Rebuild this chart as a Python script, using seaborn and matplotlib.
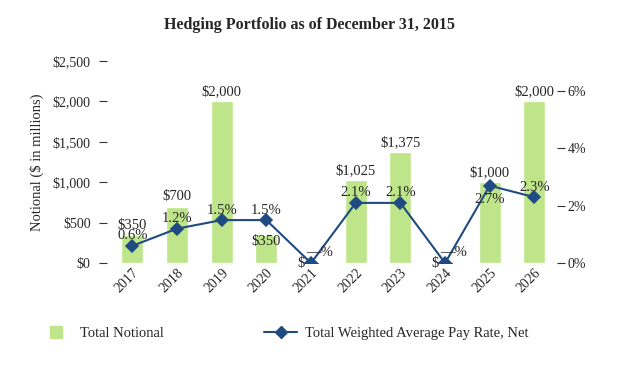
import numpy as np
import pandas as pd
import seaborn as sns
import matplotlib.pyplot as plt
from matplotlib.lines import Line2D

# Chart data
years = ['2017', '2018', '2019', '2020', '2021', '2022', '2023', '2024', '2025', '2026']
notional = [350, 700, 2000, 350, 0, 1025, 1375, 0, 1000, 2000]
pay_rate = [0.6, 1.2, 1.5, 1.5, 0.0, 2.1, 2.1, 0.0, 2.7, 2.3]
notional_labels = ['$350', '$700', '$2,000', '$350', '$—', '$1,025', '$1,375', '$—', '$1,000', '$2,000']
rate_labels = ['0.6%', '1.2%', '1.5%', '1.5%', '—%', '2.1%', '2.1%', '—%', '2.7%', '2.3%']

GREEN = '#BEE58A'
NAVY = '#1F4A82'

sns.set_style('white')
plt.rcParams['font.family'] = ['Liberation Serif', 'DejaVu Serif']
plt.rcParams['font.size'] = 10

df = pd.DataFrame({'year': years, 'notional': notional, 'rate': pay_rate})

fig = plt.figure(figsize=(6.2, 3.7), dpi=100)
ax = fig.add_axes([0.173, 0.289, 0.725, 0.546])

sns.barplot(data=df, x='year', y='notional', color=GREEN, width=0.49,
            saturation=1, ax=ax)
ax.set_ylim(0, 2500)
ax.set_xlim(-0.56, 9.5)
ax.set_yticks(range(0, 2501, 500))
ax.set_yticklabels(['${:,}'.format(v) for v in range(0, 2501, 500)])
ax.set_ylabel('Notional ($ in millions)', fontsize=10.5, labelpad=6)
ax.set_xlabel('')
ax.tick_params(axis='y', length=6, width=0.8, color='#333333', pad=6, left=True)
ax.tick_params(axis='x', length=0, pad=2)
plt.setp(ax.get_xticklabels(), rotation=45, ha='right', rotation_mode='anchor')
for s in ax.spines.values():
    s.set_visible(False)

# bar value labels
for i, (v, lab) in enumerate(zip(notional, notional_labels)):
    if v == 0:
        ax.text(i - 0.05, 0, lab, ha='center', va='center', fontsize=10.5)
    elif years[i] == '2020':
        ax.text(i, v - 85, lab, ha='center', va='center', fontsize=10.5)
    else:
        ax.text(i, v + 40, lab, ha='center', va='bottom', fontsize=10.5)

ax2 = ax.twinx()
sns.pointplot(data=df, x='year', y='rate', color=NAVY, markers='D',
              markersize=6, linewidth=1.5, ax=ax2)
ax2.set_ylim(0, 7.05)
ax2.set_xlim(-0.56, 9.5)
ax2.set_yticks([0, 2, 4, 6])
ax2.set_yticklabels(['0%', '2%', '4%', '6%'])
ax2.set_ylabel('')
ax2.tick_params(axis='y', length=6, width=0.8, color='#333333', pad=2, right=True)
for s in ax2.spines.values():
    s.set_visible(False)

# rate labels
for i, (r, lab) in enumerate(zip(pay_rate, rate_labels)):
    if r == 0:
        ax2.text(i + 0.2, 0.15, lab, ha='center', va='bottom', fontsize=10.5)
    elif years[i] == '2025':
        ax2.text(i, r - 0.25, lab, ha='center', va='top', fontsize=10.5)
    else:
        ax2.text(i, r + 0.12, lab, ha='center', va='bottom', fontsize=10.5)

fig.suptitle('Hedging Portfolio as of December 31, 2015', fontweight='bold',
             fontsize=11.5, x=0.5, y=0.955)

h1 = Line2D([], [], marker='s', color=GREEN, linestyle='none', markersize=9)
h2 = Line2D([], [], marker='D', color=NAVY, linewidth=1.5, markersize=6)
leg1 = fig.legend([h1], ['Total Notional'], loc='center left',
                  bbox_to_anchor=(0.058, 0.1), frameon=False, handlelength=0.9,
                  handletextpad=1.2, fontsize=10.5)
leg2 = fig.legend([h2], ['Total Weighted Average Pay Rate, Net'], loc='center left',
                  bbox_to_anchor=(0.405, 0.1), frameon=False, handlelength=2.27,
                  handletextpad=0.55, fontsize=10.5)

fig.savefig('out.png', dpi=100)
